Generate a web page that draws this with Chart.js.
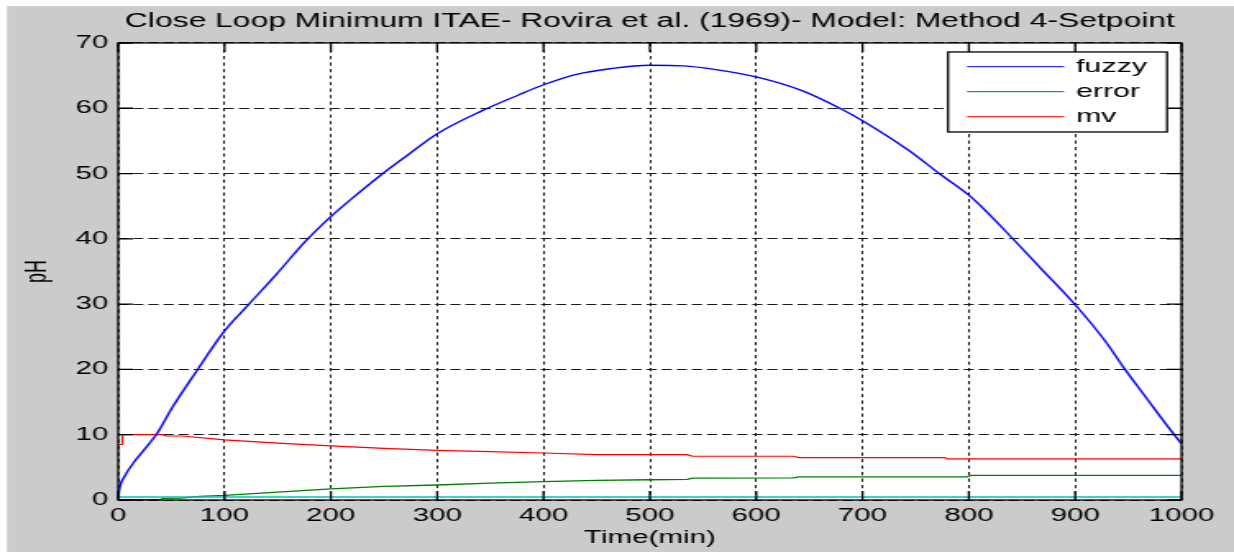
<!DOCTYPE html>
<html>
<head>
<meta charset="utf-8">
<title>Close Loop Minimum ITAE</title>
<script src="https://cdn.jsdelivr.net/npm/chart.js@4.4.1/dist/chart.umd.min.js"></script>
<style>
  html, body { margin: 0; padding: 0; background: #fff; overflow: hidden; }
  /* the figure is drawn narrow and widened, like the old exported plot */
  #wrap { width: 752px; height: 552px; transform: scaleX(1.641); transform-origin: 0 0; }
</style>
</head>
<body>
<div id="wrap"><canvas id="plot" width="752" height="552"></canvas></div>
<script>
// fuzzy controller output
const fuzzyTime = [0, 1, 6, 14, 25, 37, 51, 74, 100, 123, 149, 176, 200, 220, 248, 272, 300, 342, 376, 400,
    431, 464, 500, 532, 559, 600, 643, 680, 700, 743, 773, 800, 814, 842, 867, 900, 928, 946, 968, 985, 1000];
const fuzzyValues = [0, 1.5, 3.6, 5.6, 7.8, 10.3, 14.2, 19.8, 25.9, 30.0, 34.6, 39.6, 43.4, 46.2, 49.9, 52.8, 56.1, 59.6, 62.0, 63.6,
    65.2, 66.1, 66.6, 66.5, 66.0, 64.8, 62.7, 59.9, 58.1, 53.6, 49.9, 46.7, 44.6, 39.9, 35.6, 29.9, 24.4, 20.2, 15.4, 11.7, 8.6];

// error signal
const errorTime = [0, 12, 40, 42, 60, 76, 100, 150, 200, 250, 300, 350, 400, 450, 500, 535, 540, 635, 640, 798, 802, 1000];
const errorValues = [0, 0.05, 0.05, 0.25, 0.3, 0.55, 0.7, 1.2, 1.7, 2.1, 2.3, 2.6, 2.8, 3.0, 3.1, 3.15, 3.35, 3.4, 3.55, 3.55, 3.76, 3.76];

// manipulated variable
const mvTime = [0, 4, 4, 42, 45, 60, 100, 150, 200, 250, 300, 350, 400, 450, 535, 540, 635, 640, 777, 780, 1000];
const mvValues = [8.5, 8.5, 10, 10, 9.8, 9.8, 9.2, 8.7, 8.3, 7.9, 7.6, 7.4, 7.2, 6.95, 6.95, 6.7, 6.7, 6.5, 6.5, 6.3, 6.3];

// setpoint
const spTime = [0, 1000];
const spValues = [0.45, 0.45];

const xTicks = { min: 0, max: 1000, step: 100 };
const yTicks = { min: 0, max: 70, step: 10 };

const FONT = '"Liberation Sans", Arial, sans-serif';
const STRETCH = 1234 / 752;

function points(xs, ys) {
    return xs.map((x, i) => ({ x: x, y: ys[i] }));
}

// grey figure, white axes
const figureBackground = {
    id: 'figureBackground',
    beforeDraw(chart) {
        const { ctx, width, height, chartArea } = chart;
        ctx.save();
        ctx.fillStyle = '#fff';
        ctx.fillRect(0, 0, width, height);
        ctx.fillStyle = '#cbcbcb';
        ctx.fillRect(7 / STRETCH, 6, width, height);
        ctx.fillStyle = '#fff';
        ctx.fillRect(chartArea.left, chartArea.top, chartArea.right - chartArea.left, chartArea.bottom - chartArea.top);
        ctx.restore();
    }
};

// box round the axes with inward tick marks on all four sides
const axesBox = {
    id: 'axesBox',
    afterDatasetsDraw(chart) {
        const { ctx, chartArea: a, scales: { x, y } } = chart;
        const len = 9;
        ctx.save();
        ctx.strokeStyle = '#000';
        ctx.lineWidth = 1.3;
        ctx.strokeRect(a.left, a.top, a.right - a.left, a.bottom - a.top);
        ctx.beginPath();
        x.ticks.forEach(t => {
            const px = x.getPixelForValue(t.value);
            ctx.moveTo(px, a.bottom); ctx.lineTo(px, a.bottom - len);
            ctx.moveTo(px, a.top); ctx.lineTo(px, a.top + len);
        });
        y.ticks.forEach(t => {
            const py = y.getPixelForValue(t.value);
            ctx.moveTo(a.left, py); ctx.lineTo(a.left + len, py);
            ctx.moveTo(a.right, py); ctx.lineTo(a.right - len, py);
        });
        ctx.stroke();
        ctx.restore();
    }
};

// boxed legend in the top right corner of the axes
const legendBox = {
    id: 'legendBox',
    afterDraw(chart) {
        const { ctx, chartArea } = chart;
        const shown = chart.data.datasets.filter(d => d.label);
        const w = 133.5, h = 80, rowH = 25;
        const left = chartArea.right - 8.8 - w;
        const top = chartArea.top + 9;
        ctx.save();
        ctx.fillStyle = '#fff';
        ctx.fillRect(left, top, w, h);
        ctx.strokeStyle = '#000';
        ctx.lineWidth = 1.3;
        ctx.strokeRect(left, top, w, h);
        ctx.font = '18.5px ' + FONT;
        ctx.textBaseline = 'middle';
        shown.forEach((d, i) => {
            const y = top + 14.7 + i * rowH;
            ctx.strokeStyle = d.borderColor;
            ctx.lineWidth = 1;
            ctx.beginPath();
            ctx.moveTo(left + 11.6, y);
            ctx.lineTo(left + 70.7, y);
            ctx.stroke();
            ctx.fillStyle = '#000';
            ctx.fillText(d.label, left + 78, y);
        });
        ctx.restore();
    }
};

const ctx = document.getElementById('plot').getContext('2d');
new Chart(ctx, {
    type: 'line',
    data: {
        datasets: [
            { label: '', data: points(spTime, spValues), borderColor: '#00c0c0', borderWidth: 1.6 },
            { label: 'fuzzy', data: points(fuzzyTime, fuzzyValues), borderColor: '#0000ff', borderWidth: 1.4,
              cubicInterpolationMode: 'monotone' },
            { label: 'error', data: points(errorTime, errorValues), borderColor: '#008000', borderWidth: 1.3 },
            { label: 'mv', data: points(mvTime, mvValues), borderColor: '#ff0000', borderWidth: 1.2 }
        ]
    },
    options: {
        responsive: false,
        animation: false,
        devicePixelRatio: 1,
        elements: { point: { radius: 0 }, line: { tension: 0 } },
        layout: { padding: { left: 0, right: 32, top: 0, bottom: 0 } },
        plugins: {
            legend: { display: false },
            tooltip: { enabled: false },
            title: {
                display: true,
                fullSize: false,
                text: 'Close Loop Minimum ITAE- Rovira et al. (1969)- Model: Method 4-Setpoint',
                color: '#000',
                font: { family: FONT, size: 19.4, weight: 'normal' },
                padding: { top: 10, bottom: 9.7 }
            }
        },
        scales: {
            x: {
                type: 'linear',
                min: xTicks.min,
                max: xTicks.max,
                ticks: {
                    stepSize: xTicks.step,
                    padding: 5,
                    color: '#000',
                    maxRotation: 0,
                    autoSkip: false,
                    font: { family: FONT, size: 18 },
                    callback: v => String(v)
                },
                grid: { color: '#1a1a1a', lineWidth: 1, drawTicks: false },
                border: { display: false, dash: [3.3, 3.2] },
                title: {
                    display: true,
                    text: 'Time(min)',
                    color: '#000',
                    font: { family: FONT, size: 18 },
                    padding: { top: 0, bottom: 3 }
                },
                afterFit: s => { s.height = 52; }
            },
            y: {
                min: yTicks.min,
                max: yTicks.max,
                ticks: {
                    stepSize: yTicks.step,
                    padding: 6,
                    color: '#000',
                    font: { family: FONT, size: 18 },
                    callback: v => String(v)
                },
                grid: { color: '#1a1a1a', lineWidth: 1, drawTicks: false },
                border: { display: false, dash: [6.2, 3] },
                title: {
                    display: true,
                    text: 'pH',
                    color: '#000',
                    font: { family: FONT, size: 18 },
                    padding: { top: 12, bottom: 0 }
                },
                afterFit: s => { s.width = 72; }
            }
        }
    },
    plugins: [figureBackground, axesBox, legendBox]
});
</script>
</body>
</html>
